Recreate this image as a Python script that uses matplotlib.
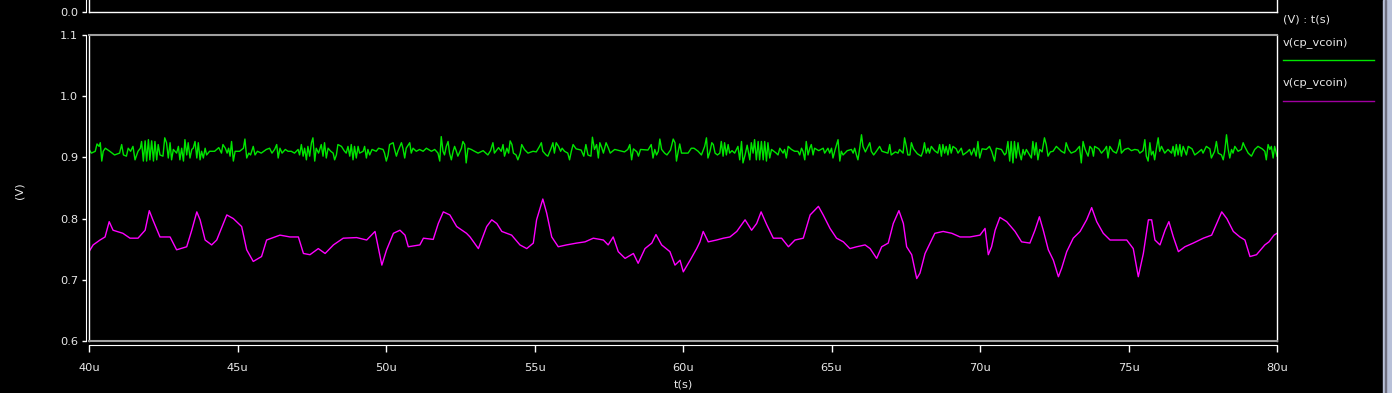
import numpy as np
import matplotlib.pyplot as plt
from matplotlib.lines import Line2D
from matplotlib.patches import Rectangle

# Waveform data (time in us, value in V)
green_t = [
    40.00, 40.08, 40.21, 40.27, 40.34, 40.38, 40.43, 40.48, 40.55, 40.70, 40.86, 41.03, 41.10, 41.16,
    41.26, 41.32, 41.40, 41.48, 41.55, 41.65, 41.73, 41.77, 41.83, 41.89, 41.94, 42.00, 42.05, 42.11,
    42.17, 42.22, 42.28, 42.33, 42.39, 42.49, 42.55, 42.61, 42.67, 42.73, 42.78, 42.84, 42.95, 43.01,
    43.06, 43.12, 43.18, 43.23, 43.29, 43.34, 43.40, 43.46, 43.51, 43.57, 43.63, 43.68, 43.74, 43.79,
    43.85, 43.91, 43.96, 44.06, 44.23, 44.37, 44.46, 44.51, 44.59, 44.65, 44.70, 44.75, 44.80, 44.86,
    44.92, 45.07, 45.20, 45.25, 45.31, 45.38, 45.44, 45.53, 45.59, 45.67, 45.80, 45.97, 46.08, 46.16,
    46.25, 46.32, 46.37, 46.43, 46.50, 46.61, 46.70,
    46.81, 46.92, 47.04, 47.09, 47.15, 47.21, 47.26, 47.32, 47.37, 47.43, 47.49, 47.54, 47.60, 47.65,
    47.73, 47.82, 47.88, 47.93, 47.99, 48.05, 48.14, 48.22, 48.27, 48.33, 48.38, 48.50, 48.59, 48.66,
    48.72, 48.78, 48.83, 48.89, 48.94, 49.00, 49.06, 49.11, 49.23, 49.28, 49.34, 49.39, 49.45, 49.53,
    49.67, 49.75, 49.90, 49.95, 50.01, 50.07, 50.12, 50.24, 50.29, 50.35, 50.40, 50.52, 50.57, 50.63,
    50.68, 50.80, 50.85, 50.91, 51.02, 51.13, 51.25, 51.36, 51.53, 51.64, 51.75, 51.81, 51.86, 51.92,
    51.97, 52.03, 52.09, 52.14, 52.20, 52.26, 52.31, 52.37, 52.42, 52.54, 52.59, 52.65, 52.70, 52.76,
    52.87, 52.98, 53.10, 53.27,
    53.43, 53.52, 53.60, 53.65, 53.79, 53.88, 53.94, 53.99, 54.07, 54.13, 54.18, 54.24, 54.29, 54.38,
    54.44, 54.52, 54.57, 54.66, 54.78, 54.95, 55.06, 55.17, 55.23, 55.28, 55.39, 55.45, 55.56, 55.62,
    55.67, 55.73, 55.81, 55.88, 55.93, 56.01, 56.12, 56.18, 56.24, 56.30, 56.40, 56.57, 56.66, 56.73,
    56.80, 56.90, 56.95, 57.02, 57.09, 57.15, 57.20, 57.27, 57.32, 57.41, 57.49, 57.55, 57.70, 57.86,
    58.03, 58.14, 58.21, 58.27, 58.33, 58.45, 58.50, 58.57, 58.82, 58.93, 58.99, 59.05, 59.11, 59.17,
    59.22, 59.28, 59.38, 59.46, 59.58, 59.67, 59.73, 59.78, 59.84, 59.89, 59.95,
    60.17, 60.28, 60.37, 60.51, 60.62, 60.73, 60.79, 60.84, 60.91, 60.97, 61.02, 61.08, 61.16, 61.24,
    61.29, 61.35, 61.40, 61.46, 61.52, 61.57, 61.65, 61.74, 61.85, 61.91, 61.97, 62.02, 62.09, 62.16,
    62.25, 62.30, 62.36, 62.41, 62.47, 62.53, 62.58, 62.64, 62.70, 62.75, 62.81, 62.86, 62.92, 62.98,
    63.14, 63.20, 63.26, 63.37, 63.42, 63.48, 63.54, 63.65, 63.76, 63.87, 63.93, 63.99, 64.04, 64.10,
    64.15, 64.21, 64.27, 64.32, 64.38, 64.43, 64.57, 64.72, 64.77, 64.88, 64.94, 65.00, 65.05, 65.13,
    65.22, 65.28, 65.33, 65.39, 65.53, 65.67, 65.73, 65.78, 65.84, 65.89, 65.95, 66.01, 66.06, 66.14,
    66.29, 66.34, 66.42, 66.51, 66.62, 66.70,
    66.90, 66.96, 67.01, 67.15, 67.24, 67.29, 67.41, 67.46, 67.52, 67.57, 67.64, 67.69, 67.76, 67.89,
    68.02, 68.08, 68.13, 68.19, 68.25, 68.30, 68.36, 68.47, 68.58, 68.64, 68.70, 68.75, 68.81, 68.86,
    68.92, 68.98, 69.03, 69.09, 69.20, 69.26, 69.37, 69.43, 69.57, 69.65, 69.71, 69.80, 69.87, 69.93,
    69.99, 70.07, 70.21, 70.32, 70.40, 70.49, 70.55, 70.72, 70.83, 70.88, 70.94, 71.00, 71.05, 71.11,
    71.16, 71.22, 71.28, 71.33, 71.39, 71.45, 71.50, 71.56, 71.67, 71.73, 71.78, 71.84, 71.89, 71.95,
    72.01, 72.09, 72.17, 72.23, 72.29, 72.37, 72.46, 72.57, 72.74, 72.85, 72.90, 72.98, 73.07, 73.21,
    73.35, 73.41, 73.47, 73.54,
    73.64, 73.70, 73.77, 73.82, 73.86, 74.00, 74.09, 74.20, 74.26, 74.31, 74.37, 74.48, 74.59, 74.65,
    74.71, 74.76, 74.87, 74.99, 75.10, 75.21, 75.32, 75.38, 75.49, 75.55, 75.60, 75.66, 75.72, 75.77,
    75.83, 75.88, 75.94, 76.00, 76.05, 76.11, 76.22, 76.33, 76.45, 76.50, 76.56, 76.61, 76.67, 76.73,
    76.78, 76.84, 76.95, 77.01, 77.14, 77.23, 77.34, 77.46, 77.51, 77.62, 77.74, 77.79, 77.90, 77.96,
    78.02, 78.13, 78.19, 78.24, 78.30, 78.35, 78.41, 78.47, 78.52, 78.58, 78.69, 78.80, 78.86, 78.91,
    79.03, 79.14, 79.25, 79.36, 79.50, 79.59, 79.64, 79.70, 79.76, 79.81, 79.87, 79.92, 80.00,
]
green_v = [
    0.913, 0.907, 0.910, 0.922, 0.918, 0.924, 0.894, 0.910, 0.915, 0.910, 0.904, 0.907, 0.921, 0.904,
    0.902, 0.915, 0.910, 0.918, 0.896, 0.910, 0.915, 0.926, 0.894, 0.927, 0.894, 0.929, 0.896, 0.927,
    0.894, 0.926, 0.896, 0.921, 0.904, 0.902, 0.932, 0.924, 0.899, 0.924, 0.896, 0.913, 0.907, 0.918,
    0.896, 0.915, 0.894, 0.929, 0.904, 0.924, 0.899, 0.913, 0.915, 0.926, 0.899, 0.924, 0.896, 0.910,
    0.899, 0.915, 0.904, 0.910, 0.910, 0.916, 0.907, 0.921, 0.915, 0.907, 0.915, 0.902, 0.926, 0.894,
    0.910, 0.910, 0.915, 0.930, 0.899, 0.907, 0.904, 0.918, 0.904, 0.910, 0.907, 0.913, 0.915, 0.907,
    0.913, 0.921, 0.899, 0.915, 0.907, 0.913, 0.910,
    0.910, 0.907, 0.913, 0.904, 0.921, 0.902, 0.915, 0.896, 0.918, 0.902, 0.924, 0.932, 0.894, 0.915,
    0.907, 0.921, 0.902, 0.924, 0.899, 0.915, 0.910, 0.907, 0.896, 0.904, 0.921, 0.918, 0.911, 0.907,
    0.918, 0.902, 0.921, 0.896, 0.918, 0.899, 0.918, 0.907, 0.910, 0.918, 0.899, 0.913, 0.904, 0.913,
    0.910, 0.915, 0.913, 0.907, 0.894, 0.904, 0.921, 0.924, 0.913, 0.902, 0.910, 0.924, 0.915, 0.899,
    0.915, 0.924, 0.907, 0.915, 0.910, 0.913, 0.910, 0.915, 0.910, 0.913, 0.907, 0.894, 0.934, 0.910,
    0.904, 0.918, 0.926, 0.907, 0.896, 0.910, 0.918, 0.910, 0.902, 0.915, 0.926, 0.921, 0.891, 0.915,
    0.913, 0.910, 0.907, 0.911,
    0.904, 0.911, 0.924, 0.907, 0.916, 0.910, 0.921, 0.902, 0.915, 0.907, 0.927, 0.921, 0.907, 0.904,
    0.896, 0.907, 0.921, 0.913, 0.907, 0.910, 0.909, 0.918, 0.924, 0.910, 0.904, 0.902, 0.915, 0.924,
    0.907, 0.924, 0.918, 0.910, 0.915, 0.910, 0.907, 0.896, 0.910, 0.921, 0.914, 0.912, 0.902, 0.921,
    0.904, 0.902, 0.933, 0.913, 0.921, 0.899, 0.924, 0.915, 0.907, 0.924, 0.915, 0.907, 0.913, 0.911,
    0.909, 0.913, 0.921, 0.896, 0.914, 0.909, 0.902, 0.913, 0.912, 0.921, 0.899, 0.913, 0.904, 0.910,
    0.930, 0.913, 0.907, 0.904, 0.912, 0.930, 0.924, 0.894, 0.910, 0.922, 0.907,
    0.907, 0.915, 0.915, 0.910, 0.904, 0.918, 0.932, 0.899, 0.910, 0.924, 0.921, 0.907, 0.904, 0.907,
    0.926, 0.902, 0.924, 0.904, 0.921, 0.907, 0.911, 0.907, 0.918, 0.896, 0.926, 0.891, 0.904, 0.920,
    0.896, 0.924, 0.907, 0.929, 0.896, 0.926, 0.896, 0.926, 0.896, 0.926, 0.894, 0.924, 0.899, 0.913,
    0.907, 0.904, 0.915, 0.907, 0.913, 0.899, 0.918, 0.913, 0.910, 0.910, 0.904, 0.915, 0.910, 0.896,
    0.926, 0.904, 0.915, 0.921, 0.904, 0.915, 0.911, 0.915, 0.907, 0.915, 0.907, 0.915, 0.899, 0.914,
    0.929, 0.894, 0.910, 0.904, 0.911, 0.913, 0.907, 0.915, 0.904, 0.896, 0.915, 0.937, 0.918, 0.909,
    0.924, 0.910, 0.904, 0.910, 0.918, 0.910,
    0.907, 0.921, 0.904, 0.909, 0.907, 0.913, 0.907, 0.932, 0.918, 0.904, 0.904, 0.924, 0.914, 0.906,
    0.902, 0.910, 0.924, 0.907, 0.915, 0.907, 0.918, 0.911, 0.907, 0.921, 0.902, 0.921, 0.907, 0.918,
    0.904, 0.921, 0.907, 0.918, 0.914, 0.907, 0.915, 0.904, 0.909, 0.913, 0.904, 0.915, 0.902, 0.926,
    0.899, 0.914, 0.913, 0.918, 0.909, 0.894, 0.915, 0.913, 0.904, 0.907, 0.926, 0.894, 0.926, 0.891,
    0.926, 0.899, 0.924, 0.907, 0.896, 0.913, 0.904, 0.913, 0.904, 0.899, 0.926, 0.904, 0.924, 0.896,
    0.913, 0.909, 0.932, 0.921, 0.902, 0.909, 0.910, 0.918, 0.910, 0.907, 0.924, 0.913, 0.907, 0.910,
    0.918, 0.891, 0.926, 0.913,
    0.902, 0.918, 0.914, 0.902, 0.918, 0.914, 0.907, 0.913, 0.918, 0.899, 0.918, 0.910, 0.907, 0.915,
    0.929, 0.907, 0.913, 0.915, 0.911, 0.913, 0.912, 0.907, 0.911, 0.929, 0.902, 0.894, 0.924, 0.904,
    0.910, 0.896, 0.915, 0.932, 0.910, 0.918, 0.907, 0.913, 0.907, 0.918, 0.902, 0.921, 0.904, 0.921,
    0.902, 0.918, 0.904, 0.918, 0.914, 0.904, 0.908, 0.913, 0.907, 0.918, 0.914, 0.899, 0.910, 0.926,
    0.907, 0.904, 0.896, 0.910, 0.937, 0.915, 0.899, 0.913, 0.907, 0.918, 0.910, 0.913, 0.924, 0.918,
    0.907, 0.902, 0.913, 0.918, 0.914, 0.910, 0.896, 0.921, 0.913, 0.918, 0.899, 0.918, 0.902,
]

magenta_t = [
    40.00, 40.14, 40.37, 40.54, 40.68, 40.81, 41.14, 41.38, 41.65, 41.89, 42.03, 42.15, 42.39, 42.73,
    42.95, 43.29, 43.46, 43.63, 43.74, 43.91, 44.13, 44.30, 44.64, 44.86, 45.14, 45.31, 45.53, 45.81,
    45.98, 46.15, 46.43, 46.77, 47.05, 47.22, 47.44, 47.72, 47.95, 48.23, 48.56, 49.01, 49.35, 49.63,
    49.86, 50.02, 50.25, 50.47, 50.64, 50.75, 51.14, 51.26, 51.59, 51.76, 51.93, 52.15, 52.38, 52.71,
    52.83, 53.11, 53.28, 53.39, 53.56, 53.73, 53.90, 54.23, 54.51, 54.74, 54.96, 55.07, 55.28, 55.41,
    55.58, 55.80, 56.08, 56.42, 56.70, 56.98, 57.32, 57.48, 57.65, 57.82, 58.05, 58.33, 58.49, 58.72,
    58.95, 59.09, 59.28, 59.56, 59.73, 59.90, 60.01, 60.24, 60.46, 60.57, 60.68, 60.85, 61.13, 61.36,
    61.58, 61.81, 62.09, 62.31, 62.48, 62.63, 62.82, 63.04, 63.32, 63.55, 63.77, 64.05, 64.28, 64.56,
    64.72, 64.95, 65.17, 65.40, 65.62, 65.85, 66.13, 66.30,
    66.52, 66.69, 66.91, 67.08, 67.27, 67.42, 67.53, 67.70, 67.87, 67.98, 68.15, 68.32, 68.48, 68.76,
    69.05, 69.33, 69.66, 70.00, 70.17, 70.28, 70.39, 70.51, 70.67, 70.90, 71.18, 71.40, 71.68, 71.85,
    72.00, 72.13, 72.30, 72.47, 72.64, 72.75, 72.92, 73.14, 73.37, 73.59, 73.76, 73.93, 74.15, 74.38,
    74.66, 74.94, 75.16, 75.33, 75.50, 75.67, 75.78, 75.89, 76.06, 76.23, 76.36, 76.51, 76.68, 76.90,
    77.18, 77.52, 77.80, 77.97, 78.14, 78.31, 78.53, 78.75, 78.92, 79.09, 79.31, 79.59, 79.73, 79.90,
    80.00,
]
magenta_v = [
    0.746, 0.757, 0.765, 0.770, 0.795, 0.781, 0.776, 0.768, 0.768, 0.781, 0.813, 0.798, 0.770, 0.770,
    0.749, 0.754, 0.781, 0.811, 0.798, 0.765, 0.757, 0.765, 0.806, 0.800, 0.787, 0.749, 0.730, 0.738,
    0.765, 0.768, 0.773, 0.770, 0.770, 0.743, 0.741, 0.751, 0.743, 0.757, 0.768, 0.769, 0.765, 0.779,
    0.724, 0.749, 0.776, 0.781, 0.773, 0.754, 0.757, 0.768, 0.766, 0.792, 0.811, 0.806, 0.787, 0.776,
    0.770, 0.751, 0.773, 0.787, 0.798, 0.792, 0.779, 0.773, 0.757, 0.751, 0.760, 0.798, 0.832, 0.809,
    0.770, 0.754, 0.757, 0.760, 0.762, 0.768, 0.765, 0.757, 0.770, 0.746, 0.735, 0.743, 0.727, 0.751,
    0.760, 0.774, 0.757, 0.746, 0.724, 0.732, 0.713, 0.732, 0.751, 0.762, 0.779, 0.762, 0.765, 0.768,
    0.770, 0.779, 0.798, 0.781, 0.792, 0.811, 0.790, 0.768, 0.768, 0.754, 0.765, 0.768, 0.806, 0.820,
    0.806, 0.784, 0.768, 0.762, 0.751, 0.754, 0.757, 0.751,
    0.735, 0.754, 0.760, 0.792, 0.813, 0.792, 0.754, 0.741, 0.702, 0.711, 0.743, 0.760, 0.776, 0.779,
    0.776, 0.770, 0.770, 0.773, 0.784, 0.741, 0.754, 0.781, 0.802, 0.795, 0.779, 0.762, 0.760, 0.781,
    0.803, 0.781, 0.749, 0.732, 0.705, 0.719, 0.746, 0.768, 0.779, 0.798, 0.818, 0.795, 0.776, 0.765,
    0.765, 0.765, 0.751, 0.705, 0.743, 0.798, 0.798, 0.765, 0.757, 0.781, 0.795, 0.770, 0.746, 0.754,
    0.760, 0.768, 0.773, 0.792, 0.811, 0.800, 0.779, 0.770, 0.765, 0.738, 0.741, 0.757, 0.762, 0.773,
    0.776,
]

series_label = "v(cp_vcoin)"
x_ticks = [40, 45, 50, 55, 60, 65, 70, 75, 80]
y_ticks = [0.6, 0.7, 0.8, 0.9, 1.0, 1.1]

W, H = 1392, 393
fig = plt.figure(figsize=(W / 100, H / 100), dpi=100, facecolor="black")
txt = "#e8e8e8"
fs = 8.2

# main panel
ax = fig.add_axes([89 / W, 1 - 341 / H, (1277 - 89) / W, (341 - 35) / H], facecolor="black")
ax.plot(green_t, green_v, color="#00e600", lw=1.0)
ax.plot(magenta_t, magenta_v, color="#ff00ff", lw=1.0)
ax.set_xlim(40, 80)
ax.set_ylim(0.6, 1.1)

# frame of the plotting area
for s in ax.spines.values():
    s.set_visible(False)
ax.axvline(40, color="white", lw=1, clip_on=False)
ax.axvline(80, color="white", lw=1, clip_on=False)
ax.axhline(1.1, color="#a0a0a0", lw=1.5, clip_on=False)
ax.axhline(0.6, color="#a0a0a0", lw=1.5, clip_on=False)

# offset axis lines with ticks
ax.spines["left"].set_visible(True)
ax.spines["left"].set_position(("outward", 2.2))
ax.spines["left"].set_color("white")
ax.spines["bottom"].set_visible(True)
ax.spines["bottom"].set_position(("outward", 3.0))
ax.spines["bottom"].set_color("white")

ax.set_xticks(x_ticks)
ax.set_xticklabels([f"{v}u" for v in x_ticks])
ax.set_yticks(y_ticks)
ax.set_yticklabels([f"{v:.1f}" for v in y_ticks])
ax.tick_params(axis="x", colors="white", labelcolor=txt, labelsize=fs, length=5, width=1, pad=7.5)
ax.tick_params(axis="y", colors="white", labelcolor=txt, labelsize=fs, length=3, width=1, pad=2.5)

ax.set_xlabel("t(s)", color=txt, fontsize=fs)
ax.xaxis.set_label_coords(0.5, -0.125)
ax.set_ylabel("(V)", color=txt, fontsize=fs)
ax.yaxis.set_label_coords(-0.054, 0.49)

# top panel (only its lower edge is visible)
ax2 = fig.add_axes([89 / W, 1 - 12.3 / H, (1277 - 89) / W, 0.1], facecolor="black")
ax2.set_xlim(40, 80)
ax2.set_ylim(0.0, 1.0)
for s in ax2.spines.values():
    s.set_visible(False)
ax2.axvline(40, color="white", lw=1, clip_on=False)
ax2.axvline(80, color="white", lw=1, clip_on=False)
ax2.axhline(0.0, color="white", lw=1, clip_on=False)
ax2.spines["left"].set_visible(True)
ax2.spines["left"].set_position(("outward", 2.2))
ax2.spines["left"].set_color("white")
ax2.set_xticks([])
ax2.set_yticks([0.0])
ax2.set_yticklabels(["0.0"])
ax2.tick_params(axis="y", colors="white", labelcolor=txt, labelsize=fs, length=3, width=1, pad=2.5)

# legend on the right
lx = 1283 / W
fig.text(lx, 1 - 20 / H, "(V) : t(s)", color=txt, fontsize=fs, va="center")
fig.text(lx, 1 - 43 / H, series_label, color=txt, fontsize=fs, va="center")
fig.lines.append(Line2D([lx, 1374 / W], [1 - 60 / H] * 2, color="#00e600", lw=1, transform=fig.transFigure))
fig.text(lx, 1 - 83 / H, series_label, color=txt, fontsize=fs, va="center")
fig.lines.append(Line2D([lx, 1374 / W], [1 - 101 / H] * 2, color="#a000a0", lw=1, transform=fig.transFigure))

# scrollbar strip at the right edge
fig.patches.append(Rectangle((1383 / W, 0), 9 / W, 1, color="#b8c0d8", transform=fig.transFigure))
fig.patches.append(Rectangle((1384.5 / W, 0), 1.5 / W, 1, color="#707080", transform=fig.transFigure))

fig.savefig("out.png", dpi=100, facecolor="black")
